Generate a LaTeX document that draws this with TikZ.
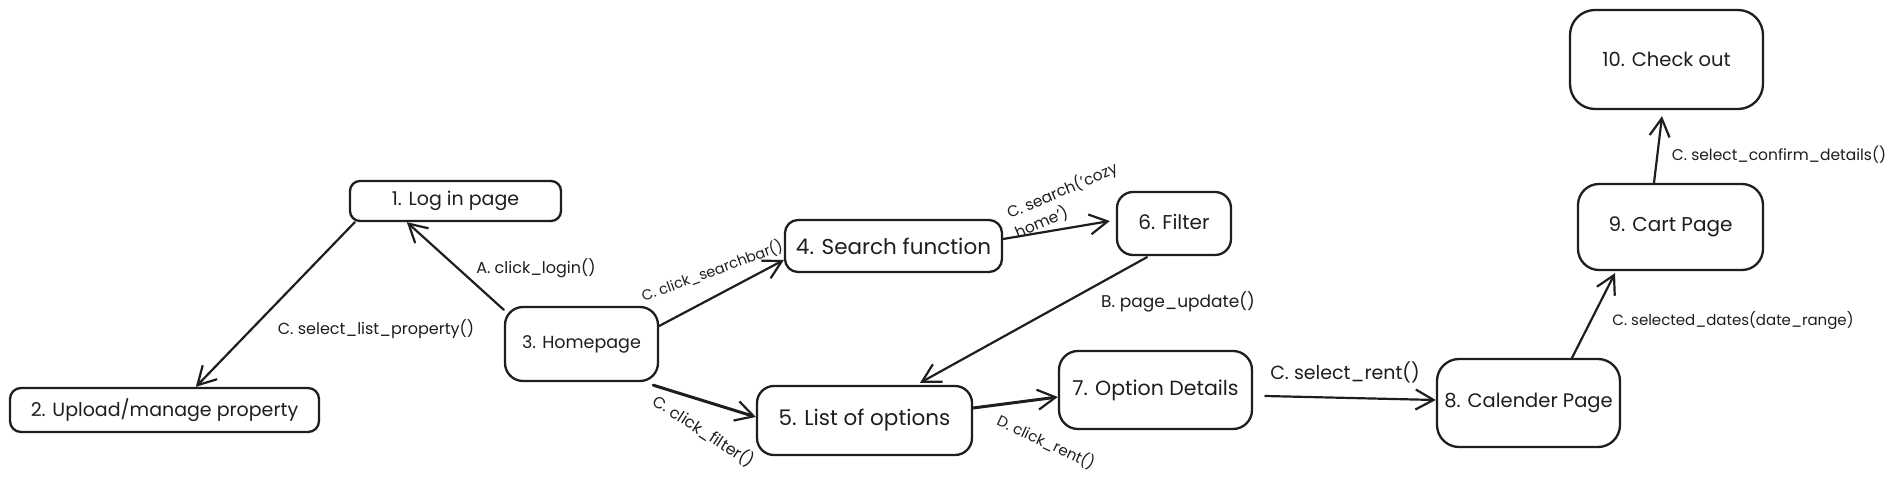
\documentclass[tikz,border=0pt]{standalone}
\usepackage{fontspec}
\setmainfont{Poppins}
\usetikzlibrary{arrows.meta}
\definecolor{ink}{HTML}{1E1E1E}
\newcommand{\fsz}[1]{\fontsize{#1}{#1}\selectfont}
\begin{document}
\begin{tikzpicture}[x=1pt,y=-1pt,
  box/.style={draw=ink, text=ink, line width=2.3pt, inner sep=0pt, align=center, font=\fsz{20}},
  lbl/.style={text=ink, font=\fsz{16}, inner sep=1pt, align=left},
  arr/.style={draw=ink, line width=2.2pt, line cap=round, -{Straight Barb[length=18pt,width=20pt,line width=2.2pt]}},
  thick arr/.style={arr, line width=3pt}]
\fill[white] (0,0) rectangle (1893,478);
\useasboundingbox (0,0) rectangle (1893,478);
% nodes
\node[box, font=\fsz{19}, minimum width=211pt, minimum height=40pt, rounded corners=10pt] (n1) at (455.5,201) {1. Log in page};
\node[box, font=\fsz{19}, minimum width=309pt, minimum height=44pt, rounded corners=11pt] (n2) at (164.5,410) {2. Upload/manage property};
\node[box, font=\fsz{17.5}, minimum width=153pt, minimum height=74pt, rounded corners=18pt] (n3) at (581.5,344) {3. Homepage};
\node[box, font=\fsz{21.5}, minimum width=217pt, minimum height=52pt, rounded corners=13pt] (n4) at (893.5,246) {4. Search function};
\node[box, font=\fsz{20}, minimum width=114pt, minimum height=63pt, rounded corners=16pt] (n6) at (1174,223.5) {\raisebox{4pt}{6. Filter}};
\node[box, font=\fsz{21.5}, minimum width=215pt, minimum height=69pt, rounded corners=17pt] (n5) at (864.5,420.5) {5. List of options};
\node[box, font=\fsz{20.5}, minimum width=193pt, minimum height=78pt, rounded corners=19pt] (n7) at (1155.5,390) {7. Option Details};
\node[box, font=\fsz{19.5}, minimum width=183pt, minimum height=88pt, rounded corners=22pt] (n8) at (1528.5,403) {8. Calender Page};
\node[box, font=\fsz{20}, minimum width=185pt, minimum height=86pt, rounded corners=21pt] (n9) at (1670.5,227) {9. Cart Page};
\node[box, font=\fsz{19.5}, minimum width=193pt, minimum height=99pt, rounded corners=25pt] (n10) at (1666.5,59.5) {10. Check out};
% connectors
\draw[arr] ([xshift=6pt]n1.south west) -- ([xshift=187pt]n2.north west);
\draw[arr] ([yshift=-4pt]n3.north west) -- ([xshift=58pt]n1.south west);
\draw[arr] ([yshift=18pt]n3.east) -- ([yshift=-14pt]n4.west);
\draw[thick arr] ([xshift=-6pt,yshift=-3pt]n3.south east) -- ([yshift=3.5pt]n5.west);
\draw[arr] ([yshift=7pt]n4.east) -- ([xshift=-6pt,yshift=2.5pt]n6.west);
\draw[arr] ([xshift=-27pt,yshift=-1pt]n6.south) -- ([xshift=55.5pt,yshift=2pt]n5.north);
\draw[thick arr] ([yshift=12.5pt]n5.east) -- ([yshift=-7pt]n7.west);
\draw[arr] ([xshift=12pt,yshift=-6pt]n7.east) -- ([yshift=3pt]n8.west);
\draw[arr] ([xshift=43.5pt]n8.north) -- ([xshift=-55.5pt,yshift=-2pt]n9.south);
\draw[arr] ([xshift=-16.5pt]n9.north) -- ([xshift=-4.5pt,yshift=-6pt]n10.south);
% labels
\node[lbl] (l12) at (376,329) {C. select\_list\_property()};
\node[lbl] (l31) at (536,268) {A. click\_login()};
\node[lbl, font=\fsz{14.5}, rotate=20] (l34) at (712,271) {C. click\_searchbar()};
\node[lbl, rotate=-33] (l35) at (704,431) {C. click\_filter()};
\node[lbl, font=\fontsize{15.5}{21}\selectfont, rotate=23] (l46) at (1066,200) {C. search('cozy\\home')};
\node[lbl, font=\fsz{17}] (l65) at (1178,302) {B. page\_update()};
\node[lbl, font=\fsz{15}, rotate=-25] (l57) at (1046,442) {D. click\_rent()};
\node[lbl, font=\fsz{19}] (l78) at (1345,372) {C. select\_rent()};
\node[lbl, font=\fsz{15}] (l89) at (1733,321) {C. selected\_dates(date\_range)};
\node[lbl, font=\fsz{15.5}] (l910) at (1779,155) {C. select\_confirm\_details()};
\end{tikzpicture}
\end{document}
